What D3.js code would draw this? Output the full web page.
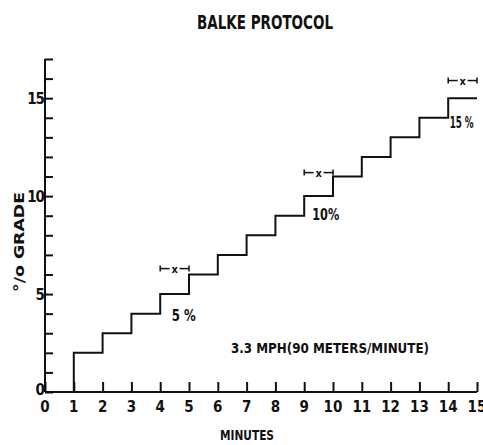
<!DOCTYPE html>
<html>
<head>
<meta charset="utf-8">
<script src="https://cdn.jsdelivr.net/npm/d3@7"></script>
<style>
  body { margin: 0; background: #fff; }
  svg text { font-family: "DejaVu Sans Condensed", "Liberation Sans Narrow", sans-serif; font-weight: bold; fill: #111; }
</style>
</head>
<body>
<svg id="chart" width="483" height="445"></svg>
<script>
// step protocol: grade held for each minute
const minutes = [1, 2, 3, 4, 5, 6, 7, 8, 9, 10, 11, 12, 13, 14, 15]
const grades = [2, 3, 4, 5, 6, 7, 8, 9, 10, 11, 12, 13, 14, 15, 15]
const xTicks = d3.range(0, 16)
const yLabels = [0, 5, 10, 15]
// stage markers |-x-| with their labels
const markStart = [4, 9, 14]
const markGrade = [6.3, 11.2, 15.9]
const markLabels = ['5 %', '10%', '15 %']
const markLabelMinute = [4.4, 9.28, 14.05]
const markLabelGrade = [3.6, 8.8, 13.5]

const svg = d3.select('#chart')
const margin = { left: 45, right: 6, top: 59, bottom: 53 }
const width = 483, height = 445

const x = d3.scaleLinear().domain([0, 15]).range([margin.left, width - margin.right])
const y = d3.scaleLinear().domain([0, 17]).range([height - margin.bottom, margin.top])

// title
svg.append('text')
  .attr('x', 265).attr('y', 29)
  .attr('text-anchor', 'middle')
  .attr('font-size', 19)
  .attr('textLength', 136).attr('lengthAdjust', 'spacingAndGlyphs')
  .text('BALKE PROTOCOL')

// axes, ticks pointing inward
const xAxis = d3.axisTop(x).tickValues(xTicks).tickSize(10).tickFormat('')
svg.append('g')
  .attr('transform', `translate(0,${y(0)})`)
  .call(xAxis)
  .call(g => g.select('.domain').attr('d', `M${x(0)},0H${x(15)}`))

const yAxis = d3.axisRight(y).ticks(17).tickSize(8).tickFormat('')
svg.append('g')
  .attr('transform', `translate(${x(0)},0)`)
  .call(yAxis)
  .call(g => g.select('.domain').attr('d', `M0,${y(0)}V${y(17)}`))

svg.selectAll('.domain, .tick line')
  .attr('stroke', '#111').attr('stroke-width', 2)

// tick labels
svg.append('g').selectAll('text')
  .data(xTicks)
  .join('text')
  .attr('x', d => x(d))
  .attr('y', y(0) + 20)
  .attr('text-anchor', 'middle')
  .attr('font-size', 15)
  .text(d => d)

svg.append('g').selectAll('text')
  .data(yLabels)
  .join('text')
  .attr('x', x(0) - 1)
  .attr('y', d => y(d) + (d === 0 ? 3 : 6))
  .attr('text-anchor', 'end')
  .attr('font-size', 15)
  .attr('letter-spacing', -1)
  .text(d => d)

// axis titles
svg.append('text')
  .attr('x', 247).attr('y', 440)
  .attr('text-anchor', 'middle')
  .attr('font-size', 14)
  .attr('textLength', 54).attr('lengthAdjust', 'spacingAndGlyphs')
  .text('MINUTES')

svg.append('text')
  .attr('transform', 'translate(24,242) rotate(-90)')
  .attr('text-anchor', 'middle')
  .attr('font-size', 14)
  .attr('textLength', 100).attr('lengthAdjust', 'spacingAndGlyphs')
  .text('°/o  GRADE')

// step line
const stepData = [[minutes[0], 0]].concat(minutes.map((m, i) => [m, grades[i]]))
const line = d3.line()
  .x(d => x(d[0]))
  .y(d => y(d[1]))
  .curve(d3.curveStepAfter)
svg.append('path')
  .attr('d', line(stepData))
  .attr('fill', 'none')
  .attr('stroke', '#111')
  .attr('stroke-width', 2)

// stage markers
const marks = svg.append('g')
markStart.forEach((m, i) => {
  const x0 = x(m), x1 = x(m + 1), yy = y(markGrade[i])
  const g = marks.append('g').attr('stroke', '#111').attr('stroke-width', 1.5)
  g.append('line').attr('x1', x0).attr('x2', x1).attr('y1', yy).attr('y2', yy)
  g.append('line').attr('x1', x0).attr('x2', x0).attr('y1', yy - 3).attr('y2', yy + 3)
  g.append('line').attr('x1', x1).attr('x2', x1).attr('y1', yy - 3).attr('y2', yy + 3)
  marks.append('rect')
    .attr('x', (x0 + x1) / 2 - 5).attr('y', yy - 4).attr('width', 10).attr('height', 8)
    .attr('fill', '#fff')
  marks.append('text')
    .attr('x', (x0 + x1) / 2).attr('y', yy + 4)
    .attr('text-anchor', 'middle')
    .attr('font-size', 11)
    .text('x')
  marks.append('text')
    .attr('x', x(markLabelMinute[i])).attr('y', y(markLabelGrade[i]))
    .attr('font-size', 15)
    .attr('textLength', m === 9 ? 27 : 24).attr('lengthAdjust', 'spacingAndGlyphs')
    .text(markLabels[i])
})

// speed note
svg.append('text')
  .attr('x', 330).attr('y', 353)
  .attr('text-anchor', 'middle')
  .attr('font-size', 14)
  .attr('textLength', 198).attr('lengthAdjust', 'spacingAndGlyphs')
  .text('3.3 MPH(90 METERS/MINUTE)')
</script>
</body>
</html>
